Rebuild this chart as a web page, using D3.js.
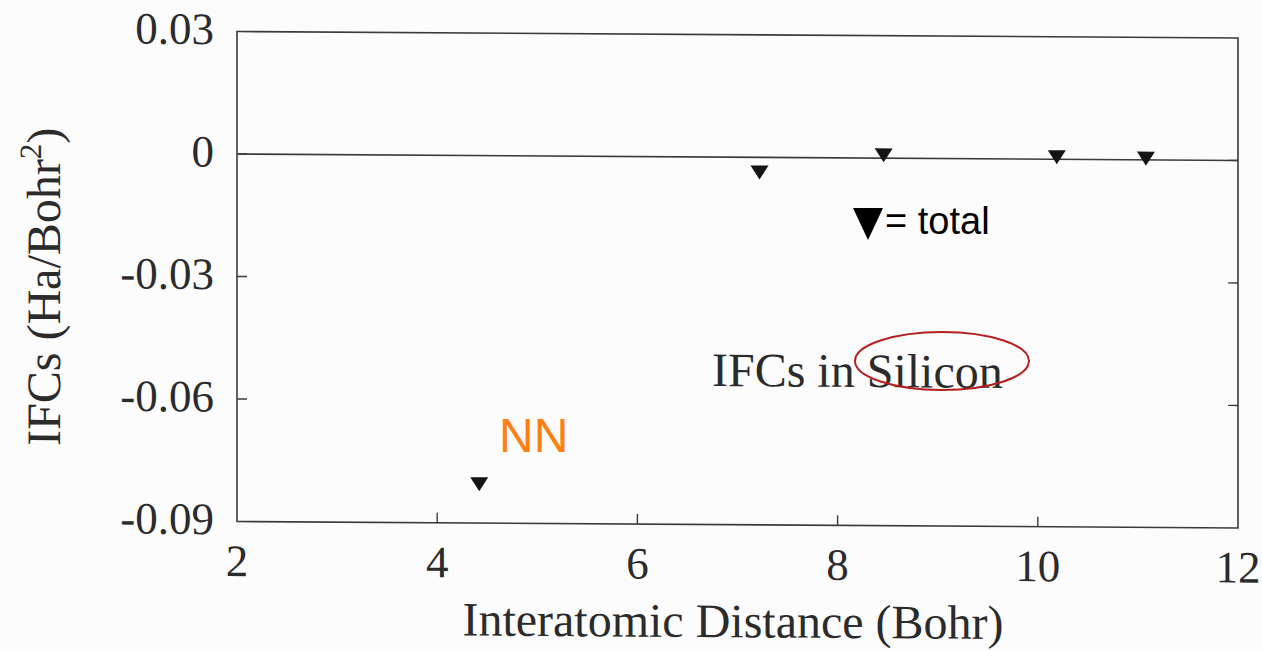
<!DOCTYPE html>
<html>
<head>
<meta charset="utf-8">
<script src="https://cdn.jsdelivr.net/npm/d3@7"></script>
<style>
  html, body { margin: 0; padding: 0; background: #fdfcfd; }
  svg { display: block; }
</style>
</head>
<body>
<svg id="chart" width="1262" height="651"></svg>
<script>
// Interatomic force constants of silicon versus neighbour distance
const distances = [4.42, 7.22, 8.46, 10.19, 11.08];   // Bohr
const ifcTotal  = [-0.0805, -0.0037, 0.0007, 0.0005, 0.0003]; // Ha/Bohr^2
const xTicks = [2, 4, 6, 8, 10, 12];
const yTicks = [0.03, 0, -0.03, -0.06, -0.09];
const yTickLabels = ["0.03", "0", "-0.03", "-0.06", "-0.09"];

const svg = d3.select("#chart");
const ink = "#2b2b2b";
const serif = "'Liberation Serif', 'Times New Roman', serif";
const sans = "'Liberation Sans', Arial, sans-serif";

const x = d3.scaleLinear().domain([2, 12]).range([237, 1238]);
const y = d3.scaleLinear().domain([-0.09, 0.03]).range([521.5, 31.5]);

// the printed figure sits slightly skewed on the page
const fig = svg.append("g")
  .attr("transform", `translate(237,0) skewY(0.37) translate(-237,0)`);

// frame
fig.append("rect")
  .attr("x", x(2)).attr("y", y(0.03))
  .attr("width", x(12) - x(2)).attr("height", y(-0.09) - y(0.03))
  .attr("fill", "none").attr("stroke", "#3a3a3a").attr("stroke-width", 1.6);

// inward ticks on left and right
const tickLen = 10;
yTicks.slice(1, -1).forEach(v => {
  fig.append("line").attr("x1", x(2)).attr("x2", x(2) + tickLen)
    .attr("y1", y(v)).attr("y2", y(v)).attr("stroke", "#3a3a3a").attr("stroke-width", 1.4);
  fig.append("line").attr("x1", x(12)).attr("x2", x(12) - tickLen)
    .attr("y1", y(v)).attr("y2", y(v)).attr("stroke", "#3a3a3a").attr("stroke-width", 1.4);
});
xTicks.slice(1, -1).forEach(v => {
  fig.append("line").attr("x1", x(v)).attr("x2", x(v))
    .attr("y1", y(-0.09)).attr("y2", y(-0.09) - tickLen).attr("stroke", "#3a3a3a").attr("stroke-width", 1.4);
});

// zero reference line
fig.append("line")
  .attr("x1", x(2)).attr("x2", x(12)).attr("y1", y(0)).attr("y2", y(0))
  .attr("stroke", "#3a3a3a").attr("stroke-width", 1.6);

// y tick labels
fig.selectAll(".ylab").data(yTicks).enter().append("text")
  .attr("x", 214).attr("y", d => y(d) - 3)
  .attr("dy", "0.35em").attr("text-anchor", "end")
  .attr("font-family", serif).attr("font-size", 45).attr("fill", ink)
  .text((d, i) => yTickLabels[i]);

// x tick labels
fig.selectAll(".xlab").data(xTicks).enter().append("text")
  .attr("x", d => x(d)).attr("y", 576)
  .attr("text-anchor", "middle")
  .attr("font-family", serif).attr("font-size", 45).attr("fill", ink)
  .text(d => d);

// axis titles
fig.append("text")
  .attr("x", 733).attr("y", 634).attr("text-anchor", "middle")
  .attr("font-family", serif).attr("font-size", 48).attr("fill", ink)
  .text("Interatomic Distance (Bohr)");

const yt = fig.append("text")
  .attr("transform", "translate(60,288) rotate(-90)")
  .attr("text-anchor", "middle")
  .attr("font-family", serif).attr("font-size", 48).attr("fill", ink);
yt.append("tspan").text("IFCs (Ha/Bohr");
yt.append("tspan").attr("font-size", 31).attr("dy", -19).text("2");
yt.append("tspan").attr("dy", 19).text(")");

// data markers: downward triangles
const tri = (w, h) => `M${-w/2},${-h/2}L${w/2},${-h/2}L0,${h/2}Z`;
fig.selectAll(".pt").data(distances).enter().append("path")
  .attr("d", tri(18, 14))
  .attr("transform", (d, i) => `translate(${x(d)},${y(ifcTotal[i])})`)
  .attr("fill", "#141414");

// inset caption
fig.append("text")
  .attr("x", 712).attr("y", 383)
  .attr("font-family", serif).attr("font-size", 48).attr("fill", ink)
  .text("IFCs in Silicon");

// overlays: legend key, nearest-neighbour label, highlight ellipse
svg.append("path")
  .attr("d", tri(30, 32))
  .attr("transform", "translate(868,224)")
  .attr("fill", "#000");
svg.append("text")
  .attr("x", 885).attr("y", 234)
  .attr("font-family", sans).attr("font-size", 38).attr("fill", "#000")
  .text("= total");

svg.append("text")
  .attr("x", 499).attr("y", 452)
  .attr("font-family", sans).attr("font-size", 48).attr("fill", "#ff7f0f")
  .text("NN");

svg.append("ellipse")
  .attr("cx", 942).attr("cy", 361).attr("rx", 87).attr("ry", 29)
  .attr("fill", "none").attr("stroke", "#b41e1e").attr("stroke-width", 2);
</script>
</body>
</html>
